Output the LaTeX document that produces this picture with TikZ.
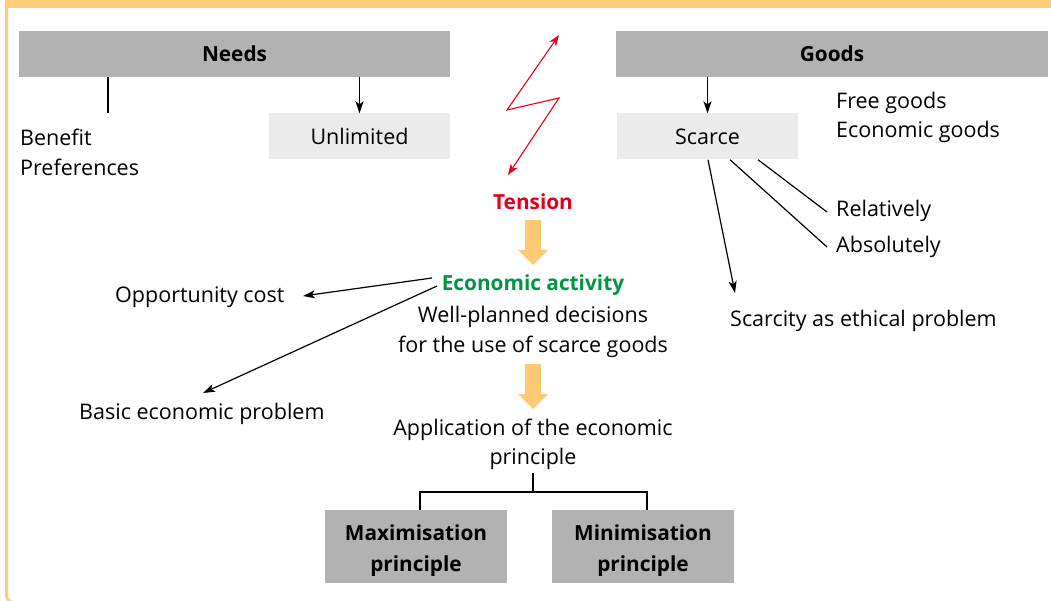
\documentclass[tikz,border=0pt]{standalone}
\usepackage{fontspec}
\setmainfont{Open Sans}
\usetikzlibrary{arrows.meta}
\definecolor{bargray}{RGB}{178,178,178}
\definecolor{lightbox}{RGB}{235,235,235}
\definecolor{frameor}{RGB}{254,206,124}
\definecolor{arrowor}{RGB}{253,201,115}
\definecolor{tred}{RGB}{226,0,26}
\definecolor{tgreen}{RGB}{0,150,64}
\newcommand{\fs}{\fontsize{21.5}{30}\selectfont}
\newcommand{\fsb}{\fontsize{20.8}{31}\selectfont\bfseries}
\tikzset{
  txt/.style={font=\fs, inner sep=0pt},
  ltxt/.style={txt, anchor=west, align=left},
  ctxt/.style={txt, align=center},
  bar/.style={fill=bargray, font=\fsb, inner sep=0pt},
  light/.style={fill=lightbox, font=\fs, inner sep=0pt},
  conn/.style={line width=1.2pt, black},
  arr/.style={conn, -{Stealth[length=12pt,width=8pt,inset=3pt]}},
  redarr/.style={line width=1.1pt, tred, {Stealth[length=11pt,width=8pt,inset=3pt]}-{Stealth[length=11pt,width=8pt,inset=3pt]}},
  blockarrow/.style={fill=arrowor}
}
\begin{document}
\begin{tikzpicture}[x=1pt,y=-1pt]
\useasboundingbox (0,0) rectangle (1051,601);
% frame
\fill[frameor] (5,0) rectangle (1051,8);
\draw[frameor, line width=3pt, rounded corners=7pt] (6.5,0) -- (6.5,602.5) -- (60,602.5);

% top bars
\node[bar, minimum width=431, minimum height=46] (needs) at (234.5,54) {Needs};
\node[bar, minimum width=432, minimum height=46] (goods) at (832,54) {Goods};

% Needs side
\node[light, minimum width=181, minimum height=46] (unl) at (359.5,136.5) {Unlimited};
\draw[arr] (needs.south -| unl) -- (unl.north);
\coordinate (bt) at (108,113);
\draw[conn] (needs.south -| bt) -- (bt);
\node[ltxt] (benefit) at (20,152.5) {Benefit\\Preferences};

% Goods side
\node[light, minimum width=181, minimum height=46] (scarce) at (707.5,136.5) {Scarce};
\draw[arr] (goods.south -| scarce) -- (scarce.north);
\node[ltxt, font=\fontsize{21.5}{29}\selectfont] (types) at (836,117.5) {Free goods\\Economic goods};
\node[ltxt] (rel) at (836,210.5) {Relatively};
\node[ltxt] (abs) at (836,246.5) {Absolutely};
\node[ltxt] (ethic) at (730,320.5) {Scarcity as ethical problem};
\coordinate (relend) at (827,212);
\coordinate (absend) at (827,247);
\coordinate (ethtip) at (735,293);
\draw[conn] (scarce.south -| 758,0) -- (relend);
\draw[conn] (scarce.south -| 730,0) -- (absend);
\draw[arr] (scarce.south -| 708,0) -- (ethtip);

% tension zigzag
\coordinate (z1) at (559,35);
\coordinate (z2) at (507,110);
\coordinate (z3) at (559,98);
\coordinate (z4) at (508,175);
\draw[redarr, line join=miter] (z1) -- (z2) -- (z3) -- (z4);
\node[txt, font=\fsb, text=tred] (tension) at (533,202) {Tension};

% block arrow 1
\fill[blockarrow] (525,220) -- (541,220) -- (541,250) -- (548,250) -- (533,265) -- (518,250) -- (525,250) -- cycle;

\node[txt, font=\fsb, text=tgreen] (act) at (533,285.5) {Economic activity};
\node[ctxt] (wp) at (533,332) {Well-planned decisions\\for the use of scarce goods};

% block arrow 2
\fill[blockarrow] (525,364) -- (541,364) -- (541,394) -- (548,394) -- (533,409) -- (518,394) -- (525,394) -- cycle;

\node[ltxt] (opp) at (115,297) {Opportunity cost};
\node[ltxt] (basic) at (79,414) {Basic economic problem};
\coordinate (oppstart) at (432,278);
\coordinate (opptip) at (303,296);
\coordinate (basstart) at (437,286);
\coordinate (bastip) at (203,393);
\draw[arr] (oppstart) -- (opptip);
\draw[arr] (basstart) -- (bastip);

\node[ctxt, font=\fontsize{21.5}{29}\selectfont] (app) at (533,444) {Application of the economic\\principle};

% principle boxes
\node[bar, minimum width=182, minimum height=73] (max) at (416,546.5) {};
\node[bar, minimum width=182, minimum height=73] (min) at (643,546.5) {};
\node[ctxt, font=\fsb] (maxt) at ([yshift=-4pt]max.center) {Maximisation\\principle};
\node[ctxt, font=\fsb] (mint) at ([yshift=-4pt]min.center) {Minimisation\\principle};
\coordinate (br) at (533,492);
\draw[conn] (app.south |- 0,473) -- (br);
\draw[conn] ([xshift=4pt]max.north) |- (br) -| ([xshift=4pt]min.north);
\end{tikzpicture}
\end{document}
